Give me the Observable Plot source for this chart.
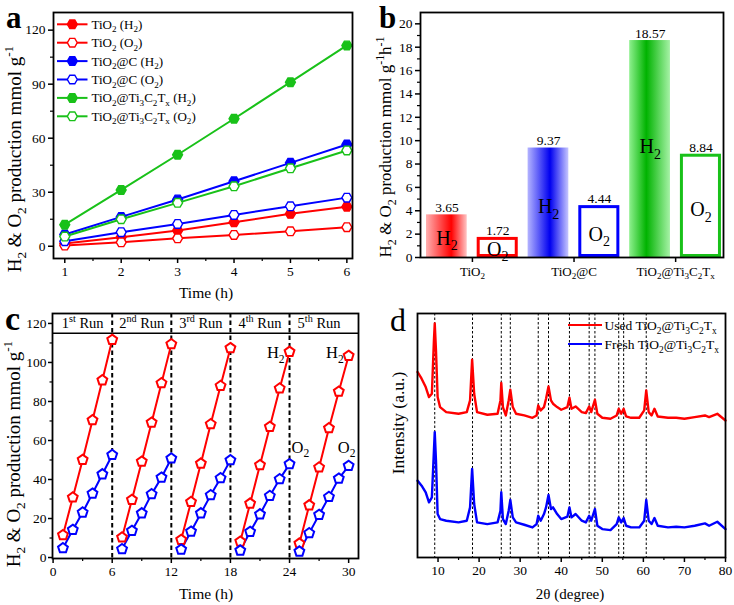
<!DOCTYPE html>
<html><head><meta charset="utf-8">
<script src="https://cdn.jsdelivr.net/npm/d3@7"></script>
<script src="https://cdn.jsdelivr.net/npm/@observablehq/plot@0.6"></script>
<style>
body{margin:0;background:#fff;}
#wrap{position:relative;width:734px;height:605px;overflow:hidden;background:#fff;}
.panel{position:absolute;}
#overlay{position:absolute;left:0;top:0;pointer-events:none;}
</style></head><body><div id="wrap"></div>
<script>
// ---------- Panel a data ----------
const timeA = [1, 2, 3, 4, 5, 6];
const tio2H2 = [1.5, 5, 8.7, 13.3, 18, 22];
const tio2O2 = [0.4, 2.2, 4.4, 6.3, 8.3, 10.6];
const tio2cH2 = [6.5, 16.3, 26, 36.1, 46.3, 56.5];
const tio2cO2 = [2.8, 7.8, 12.4, 17.4, 22.2, 27];
const mxeneH2 = [12, 31.3, 50.8, 70.8, 91.1, 111.5];
const mxeneO2 = [5.4, 15, 24.1, 33.3, 43.3, 53.2];
const legendA = ["TiO_2 (H_2)", "TiO_2 (O_2)", "TiO_2@C (H_2)", "TiO_2@C (O_2)", "TiO_2@Ti_3C_2T_x (H_2)", "TiO_2@Ti_3C_2T_x (O_2)"];
const ticksAY = [0, 30, 60, 90, 120];

// ---------- Panel b data ----------
const catsB = ["TiO_2", "TiO_2@C", "TiO_2@Ti_3C_2T_x"];
const rateH2 = [3.65, 9.37, 18.57];
const rateO2 = [1.72, 4.44, 8.84];

// ---------- Panel c data ----------
const timeC = d3.range(1, 31);
const cycH2 = [11.5, 30.8, 50.1, 70.4, 90.9, 111.6,
               10.3, 29.6, 49.2, 69.2, 89.4, 109.4,
               9.1, 28.5, 48.2, 68.4, 88, 107.4,
               8.2, 27.7, 47.4, 67, 86.7, 105.5,
               7.2, 26.8, 46.2, 66.3, 85.1, 103.4];
const cycO2 = [4.8, 14.2, 23.1, 32.8, 42.7, 52.6,
               4.3, 13.7, 22.7, 32.5, 41, 50.8,
               4.1, 13.3, 22.7, 32, 40.7, 49.9,
               3.6, 13.2, 22.2, 31.6, 40.2, 47.9,
               3.1, 12.5, 21.9, 31.1, 40.5, 47];
const runLabels = ["1^{st} Run", "2^{nd} Run", "3^{rd} Run", "4^{th} Run", "5^{th} Run"];
const runBreaks = [6, 12, 18, 24];

// ---------- Panel d data ----------
const twoTheta = [5,6,7,7.8,8.5,9.0,9.2,9.5,9.9,10.5,12,15,17,17.8,18.3,18.8,19.5,22,24.5,25.2,25.4,25.8,26.5,27.2,27.6,28.2,29,31,33,34,34.4,35,35.8,36.3,36.9,37.5,38,39,40,41.5,42,42.5,43.5,45,46,46.8,47.3,48.2,48.8,50,52,53.5,54,54.6,55.2,55.8,57,59,60.2,60.7,61.3,62,62.7,63.5,66,68,70,72.5,75,76,78,80];
const usedI = [555,535,510,480,490,650,700,620,480,450,435,430,435,470,592,490,435,427,430,470,522,450,425,470,502,450,430,425,418,425,455,440,450,475,512,470,460,450,442,450,478,445,452,435,432,452,435,472,430,418,415,425,445,430,445,422,418,418,440,500,435,425,445,422,418,418,415,420,425,420,430,410];
const freshI = [230,215,195,165,180,320,375,290,130,115,110,105,110,150,265,160,105,100,105,140,195,115,100,140,172,120,105,98,90,100,125,110,130,150,187,145,150,130,115,122,150,120,130,110,105,125,110,145,95,85,82,100,120,105,118,95,90,90,110,172,110,100,118,95,90,92,90,95,102,95,107,85];
const refPeaks = [9.2, 18.4, 25.4, 27.6, 34.4, 36.9, 42.0, 46.8, 48.2, 54.0, 55.2, 60.7];
const legendD = ["Used TiO_2@Ti_3C_2T_x", "Fresh TiO_2@Ti_3C_2T_x"];

// ---------- styling ----------
const FONT = "'Liberation Serif','Times New Roman',serif";
const RED = "#ff0000", BLUE = "#0000ff", GREEN = "#19c119";
const NS = "http://www.w3.org/2000/svg";
const style = fs => ({fontFamily: FONT, fontSize: fs + "px", color: "black", background: "transparent", overflow: "visible"});

const hexagon = {draw(ctx, size) { const r = Math.sqrt(size / Math.PI) * 1.08;
  for (let k = 0; k < 6; k++) { const a = k * Math.PI / 3, x = r * Math.cos(a), y = r * Math.sin(a); k ? ctx.lineTo(x, y) : ctx.moveTo(x, y); } ctx.closePath(); }};
const pentagon = {draw(ctx, size) { const r = Math.sqrt(size / Math.PI) * 1.12;
  for (let k = 0; k < 5; k++) { const a = -Math.PI / 2 + k * 2 * Math.PI / 5, x = r * Math.cos(a), y = r * Math.sin(a); k ? ctx.lineTo(x, y) : ctx.moveTo(x, y); } ctx.closePath(); }};

const blank = () => "";
const wrap = document.getElementById("wrap");
function place(svg, left, top) { const d = document.createElement("div"); d.className = "panel"; d.style.left = left + "px"; d.style.top = top + "px"; d.appendChild(svg); wrap.appendChild(d); return svg; }

// ---------- Panel a ----------
const seriesA = [
  {vals: tio2H2, color: RED, filled: true}, {vals: tio2O2, color: RED, filled: false},
  {vals: tio2cH2, color: BLUE, filled: true}, {vals: tio2cO2, color: BLUE, filled: false},
  {vals: mxeneH2, color: GREEN, filled: true}, {vals: mxeneO2, color: GREEN, filled: false}
];
const marksA = [
  Plot.axisY(ticksAY, {tickSize: 5, tickPadding: 3, strokeWidth: 1.5, label: null, fontSize: 13.5}),
  Plot.axisY([15, 45, 75, 105], {tickSize: 3, tickFormat: blank, strokeWidth: 1.2, label: null}),
  Plot.axisX(timeA, {tickSize: 5, tickPadding: 3, strokeWidth: 1.5, label: null, fontSize: 13.5}),
  Plot.axisX([1.5, 2.5, 3.5, 4.5, 5.5], {tickSize: 3, tickFormat: blank, strokeWidth: 1.2, label: null})
];
seriesA.forEach(s => {
  marksA.push(Plot.line(timeA, {x: d => d, y: (d, i) => s.vals[i], stroke: s.color, strokeWidth: 2}));
  marksA.push(Plot.dot(timeA, {x: d => d, y: (d, i) => s.vals[i], symbol: hexagon, r: 4.6, fill: s.filled ? s.color : "white", stroke: s.color, strokeWidth: 1.4}));
});
marksA.push(Plot.frame({stroke: "black", strokeWidth: 1.8}));
place(Plot.plot({width: 367, height: 300, marginLeft: 53, marginRight: 15, marginTop: 12, marginBottom: 42,
  x: {domain: [0.8, 6.1], label: null}, y: {domain: [-6.8, 129.8], label: null}, style: style(13.5), marks: marksA}), 0, 0);

// ---------- Panel b ----------
const gradSpecs = [
  {id: "gR", stops: [[0, "#ffb0b0"], [0.62, "#ff0000"], [1, "#ffc4c4"]]},
  {id: "gB", stops: [[0, "#b4b4ff"], [0.55, "#0000f0"], [1, "#c6c6ff"]]},
  {id: "gG", stops: [[0, "#8ef08e"], [0.42, "#00b300"], [1, "#a6f2a6"]]}
];
const gradIds = ["gR", "gB", "gG"];
const strokeB = [RED, BLUE, GREEN];
const gradMark = () => { const defs = document.createElementNS(NS, "defs");
  gradSpecs.forEach(g => { const lg = document.createElementNS(NS, "linearGradient");
    lg.setAttribute("id", g.id); lg.setAttribute("x1", "0"); lg.setAttribute("x2", "1"); lg.setAttribute("y1", "0"); lg.setAttribute("y2", "0");
    g.stops.forEach(([o, c]) => { const st = document.createElementNS(NS, "stop"); st.setAttribute("offset", o); st.setAttribute("stop-color", c); lg.appendChild(st); });
    defs.appendChild(lg); });
  return defs; };
const idxB = catsB.map((c, i) => i);
const marksB = [gradMark,
  Plot.axisY(d3.range(0, 21, 2), {tickSize: 5, tickPadding: 3, strokeWidth: 1.5, label: null, fontSize: 13.5}),
  Plot.axisY(d3.range(1, 21, 2), {tickSize: 3, tickFormat: blank, strokeWidth: 1.2, label: null}),
  Plot.axisX(idxB, {tickSize: 5, tickPadding: 4, strokeWidth: 1.5, label: null, fontSize: 13, tickFormat: i => catsB[i]})
];
idxB.forEach(i => {
  marksB.push(Plot.rectY([rateH2[i]], {x1: () => i - 0.452, x2: () => i - 0.051, y1: () => 0, y2: d => d, fill: `url(#${gradIds[i]})`}));
  marksB.push(Plot.rectY([rateO2[i]], {x1: () => i + 0.047, x2: () => i + 0.451, y1: () => 0, y2: d => d, fill: "white", stroke: strokeB[i], strokeWidth: 3, inset: 1.5}));
});
const h2LabelY = [1.65, 4.36, 9.5], o2LabelY = [0.7, 2.0, 4.1];
marksB.push(
  Plot.text(rateH2, {x: (d, i) => i - 0.25, y: d => d, text: d => d.toFixed(2), dy: -7, fontSize: 13.5}),
  Plot.text(rateO2, {x: (d, i) => i + 0.249, y: d => d, text: d => d.toFixed(2), dy: -7, fontSize: 13.5}),
  Plot.text(h2LabelY, {x: (d, i) => i - 0.25, y: d => d, text: () => "H_2", fontSize: 20}),
  Plot.text(o2LabelY, {x: (d, i) => i + 0.249, y: d => d, text: () => "O_2", fontSize: 20}),
  Plot.frame({stroke: "black", strokeWidth: 1.8})
);
place(Plot.plot({width: 367, height: 300, marginLeft: 53, marginRight: 11, marginTop: 12, marginBottom: 43,
  x: {domain: [-0.511, 2.471], label: null}, y: {domain: [0, 20.97], label: null}, style: style(13.5), marks: marksB}), 367, 0);

// ---------- Panel c ----------
const recC = timeC.map((t, i) => ({t, h: cycH2[i], o: cycO2[i], run: Math.floor(i / 6)}));
const marksC = [
  Plot.axisY(d3.range(0, 121, 20), {tickSize: 4, tickPadding: 2, strokeWidth: 1.5, label: null, fontSize: 13.5}),
  Plot.axisY(d3.range(10, 120, 20), {tickSize: 2.5, tickFormat: blank, strokeWidth: 1.2, label: null}),
  Plot.axisX(d3.range(0, 31, 6), {tickSize: 5, tickPadding: 3, strokeWidth: 1.5, label: null, fontSize: 13.5}),
  Plot.axisX(d3.range(3, 30, 6), {tickSize: 3, tickFormat: blank, strokeWidth: 1.2, label: null}),
  Plot.ruleY([115], {stroke: "black", strokeWidth: 1.5}),
  Plot.ruleX(runBreaks, {stroke: "black", strokeWidth: 2, strokeDasharray: "4.5,3"}),
  Plot.line(recC, {x: "t", y: "h", z: "run", stroke: RED, strokeWidth: 2}),
  Plot.line(recC, {x: "t", y: "o", z: "run", stroke: BLUE, strokeWidth: 2}),
  Plot.dot(recC, {x: "t", y: "h", symbol: pentagon, r: 4.6, fill: "white", stroke: RED, strokeWidth: 2}),
  Plot.dot(recC, {x: "t", y: "o", symbol: pentagon, r: 4.6, fill: "white", stroke: BLUE, strokeWidth: 2}),
  Plot.text(runLabels, {x: (d, i) => i * 6 + 3, y: () => 120, text: d => d, fontSize: 14.5}),
  Plot.text([[22.6, 105, "H_2"], [28.6, 105, "H_2"], [25.1, 56.5, "O_2"], [29.8, 56.5, "O_2"]], {x: d => d[0], y: d => d[1], text: d => d[2], fontSize: 16.5}),
  Plot.frame({stroke: "black", strokeWidth: 1.8})
];
place(Plot.plot({width: 367, height: 305, marginLeft: 52, marginRight: 9, marginTop: 13, marginBottom: 47,
  x: {domain: [-0.06, 31], label: null}, y: {domain: [-0.5, 125.1], label: null}, style: style(13.5), marks: marksC}), 0, 300);

// ---------- Panel d ----------
const marksD = [
  Plot.axisX(d3.range(10, 81, 10), {tickSize: 5, tickPadding: 3, strokeWidth: 1.5, label: null, fontSize: 13.5}),
  Plot.axisX(d3.range(15, 80, 10), {tickSize: 3, tickFormat: blank, strokeWidth: 1.2, label: null}),
  Plot.ruleX(refPeaks, {stroke: "black", strokeWidth: 1, strokeDasharray: "2.5,2"}),
  Plot.line(twoTheta, {x: d => d, y: (d, i) => usedI[i], stroke: RED, strokeWidth: 2.4, strokeLinejoin: "round"}),
  Plot.line(twoTheta, {x: d => d, y: (d, i) => freshI[i], stroke: BLUE, strokeWidth: 2.4, strokeLinejoin: "round"}),
  Plot.frame({stroke: "black", strokeWidth: 1.8})
];
place(Plot.plot({width: 367, height: 305, marginLeft: 50, marginRight: 9, marginTop: 13, marginBottom: 48,
  x: {domain: [5, 80], label: null}, y: {domain: [0, 730], axis: null, label: null}, style: style(13.5), marks: marksD}), 367, 300);

// ---------- overlay: panel letters, axis titles, legends ----------
const ov = d3.select(wrap).append("svg").attr("id", "overlay").attr("width", 734).attr("height", 605)
  .style("font-family", FONT).style("overflow", "visible");
const letter = (t, x, y, bold, fs) => ov.append("text").attr("x", x).attr("y", y).attr("font-size", fs).attr("font-weight", bold ? "bold" : "normal").text(t);
letter("a", 6, 27.5, true, 31); letter("b", 379, 27.5, true, 31); letter("c", 5, 330, true, 34); letter("d", 390, 331, false, 32);
const yTitle = (t, x, y, fs) => ov.append("text").attr("transform", `translate(${x},${y}) rotate(-90)`).attr("text-anchor", "middle").attr("dy", "0.35em").attr("font-size", fs).text(t);
yTitle("H_2 & O_2 production mmol g^{-1}", 14, 159, 19);
yTitle("H_2 & O_2 production mmol g^{-1}h^{-1}", 385, 147, 17);
yTitle("H_2 & O_2 production mmol g^{-1}", 13, 454, 19);
yTitle("Intensity (a.u.)", 398, 423, 17.5);
const xTitle = (t, x, y, fs) => ov.append("text").attr("x", x).attr("y", y).attr("text-anchor", "middle").attr("font-size", fs).text(t);
xTitle("Time (h)", 206, 298, 15.5);
xTitle("Time (h)", 206, 599, 15.5);
xTitle("2θ (degree)", 570, 599, 15);

// legend a
const rowsA = legendA.map((t, i) => ({t, y: 24.3 + i * 18.4, s: seriesA[i]}));
rowsA.forEach(r => {
  ov.append("line").attr("x1", 57).attr("x2", 87.5).attr("y1", r.y).attr("y2", r.y).attr("stroke", r.s.color).attr("stroke-width", 2);
  ov.append("path").attr("d", d3.symbol(hexagon, Math.PI * 4.6 * 4.6)()).attr("transform", `translate(72.3,${r.y})`)
    .attr("fill", r.s.filled ? r.s.color : "white").attr("stroke", r.s.color).attr("stroke-width", 1.4);
  ov.append("text").attr("x", 91.5).attr("y", r.y).attr("dy", "0.35em").attr("font-size", 13).text(r.t);
});
// legend d
[RED, BLUE].forEach((c, i) => {
  const y = 325 + i * 19;
  ov.append("line").attr("x1", 568).attr("x2", 602).attr("y1", y).attr("y2", y).attr("stroke", c).attr("stroke-width", 2);
  ov.append("text").attr("x", 604.5).attr("y", y).attr("dy", "0.35em").attr("font-size", 13.5).text(legendD[i]);
});

// ---------- rich text (subscripts / superscripts) ----------
function richify(root) {
  root.querySelectorAll("text").forEach(t => {
    const s = t.textContent;
    if (!/[_^]/.test(s)) return;
    const fs = parseFloat(getComputedStyle(t).fontSize) || 14;
    while (t.firstChild) t.removeChild(t.firstChild);
    const re = /([_^])(\{[^}]*\}|[^\s])/g;
    let last = 0, shift = 0, m;
    const add = (str, mode) => {
      if (!str) return;
      const sp = document.createElementNS(NS, "tspan");
      const target = mode === "sub" ? 0.28 * fs : mode === "sup" ? -0.4 * fs : 0;
      if (target !== shift) sp.setAttribute("dy", (target - shift).toFixed(2));
      shift = target;
      if (mode) sp.setAttribute("font-size", (0.7 * fs).toFixed(2));
      sp.textContent = str; t.appendChild(sp);
    };
    while ((m = re.exec(s))) {
      add(s.slice(last, m.index), null);
      let c = m[2]; if (c[0] === "{") c = c.slice(1, -1);
      add(c, m[1] === "_" ? "sub" : "sup");
      last = re.lastIndex;
    }
    add(s.slice(last), null);
  });
}
richify(wrap);
</script></body></html>
